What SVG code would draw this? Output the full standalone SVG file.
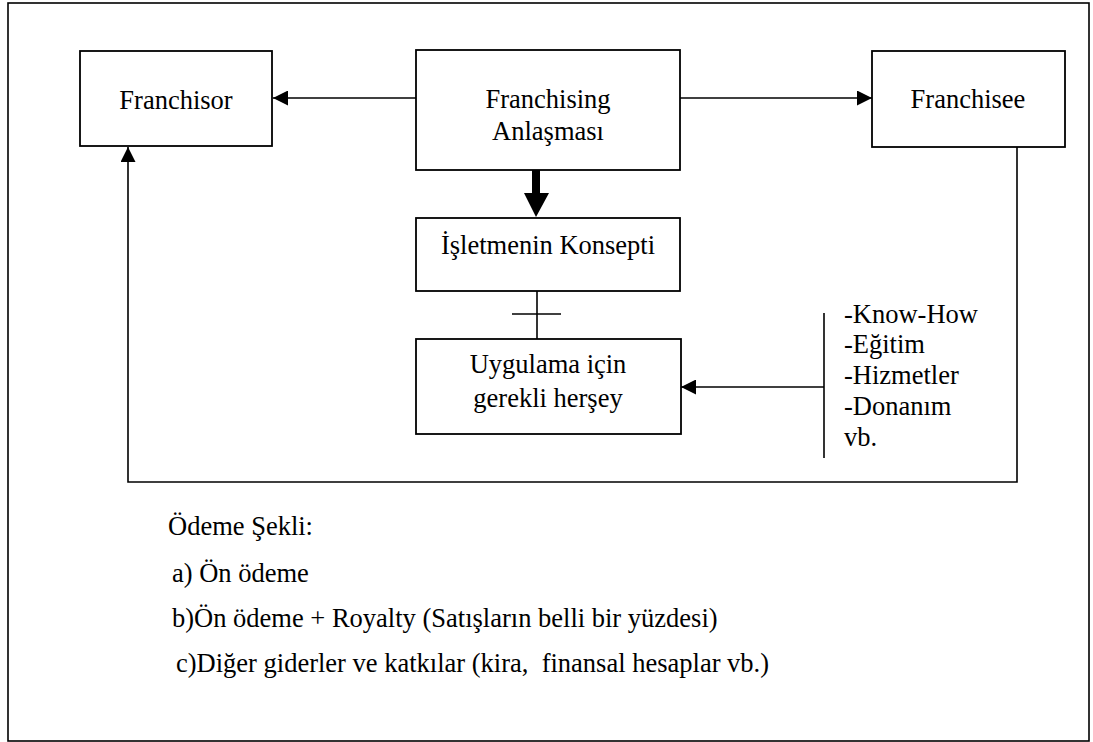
<svg xmlns="http://www.w3.org/2000/svg" width="1093" height="742" viewBox="0 0 1093 742">
  <style>
    .box { fill: #fff; stroke: #000; stroke-width: 1.8; }
    .ln { fill: none; stroke: #000; stroke-width: 1.6; }
    text { font-family: "Liberation Serif", "Times New Roman", serif; font-size: 26.5px; fill: #000; white-space: pre; }
    .c { text-anchor: middle; }
  </style>
  <defs>
    <marker id="arr" viewBox="0 0 10 10" refX="10" refY="5" markerWidth="15" markerHeight="15" markerUnits="userSpaceOnUse" orient="auto">
      <path d="M0,0 L10,5 L0,10 Z" fill="#000"/>
    </marker>
  </defs>

  <!-- page frame -->
  <rect x="8" y="3" width="1081" height="738" fill="#fff" stroke="#000" stroke-width="1.6"/>

  <!-- connectors -->
  <g id="connectors">
    <line class="ln" x1="416" y1="98" x2="273" y2="98" marker-end="url(#arr)"/>
    <line class="ln" x1="680" y1="98" x2="872" y2="98" marker-end="url(#arr)"/>
    <polyline class="ln" points="1017,147 1017,482 128,482 128,147" marker-end="url(#arr)"/>
    <!-- bold arrow to the concept -->
    <path d="M532,170 H540 V193 H549 L536,217 L524,193 H532 Z" fill="#000"/>
    <!-- concept to implementation -->
    <line class="ln" x1="537" y1="291" x2="537" y2="339"/>
    <line class="ln" x1="512" y1="314" x2="561" y2="314"/>
    <!-- support list bracket -->
    <line class="ln" x1="824" y1="313" x2="824" y2="458"/>
    <line class="ln" x1="824" y1="387" x2="681" y2="387" marker-end="url(#arr)"/>
  </g>

  <g id="franchisor">
    <rect class="box" x="80" y="51" width="192" height="95"/>
    <text class="c" x="176" y="109">Franchisor</text>
  </g>

  <g id="agreement">
    <rect class="box" x="416" y="50" width="264" height="120"/>
    <text class="c" x="548" y="108">Franchising</text>
    <text class="c" x="548" y="140">Anlaşması</text>
  </g>

  <g id="franchisee">
    <rect class="box" x="872" y="51" width="193" height="96"/>
    <text class="c" x="968" y="108">Franchisee</text>
  </g>

  <g id="concept">
    <rect class="box" x="416" y="218" width="264" height="73"/>
    <text class="c" x="548" y="254">İşletmenin Konsepti</text>
  </g>

  <g id="implementation">
    <rect class="box" x="416" y="339" width="265" height="95"/>
    <text class="c" x="548" y="373">Uygulama için</text>
    <text class="c" x="548" y="407">gerekli herşey</text>
  </g>

  <g id="support-list">
    <text x="844" y="323">-Know-How</text>
    <text x="844" y="353">-Eğitim</text>
    <text x="844" y="384">-Hizmetler</text>
    <text x="844" y="415">-Donanım</text>
    <text x="844" y="446">vb.</text>
  </g>

  <g id="payment">
    <text x="168" y="535">Ödeme Şekli:</text>
    <text x="172" y="582">a) Ön ödeme</text>
    <text x="172" y="627">b)Ön ödeme + Royalty (Satışların belli bir yüzdesi)</text>
    <text x="176" y="672" xml:space="preserve">c)Diğer giderler ve katkılar (kira,  finansal hesaplar vb.)</text>
  </g>
</svg>
